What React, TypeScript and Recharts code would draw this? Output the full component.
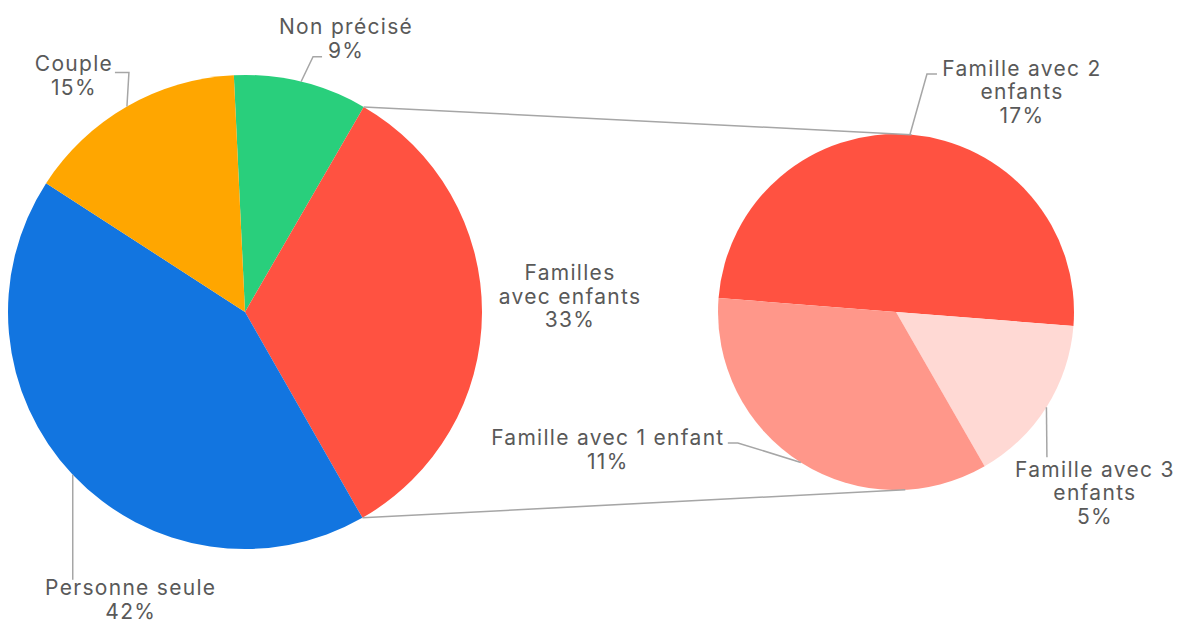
import React from "react";
import { PieChart, Pie, Cell } from "recharts";

// main split of households
const mainCategories = ["Non précisé", "Familles\navec enfants", "Personne seule", "Couple"];
const mainValues = [9.1, 33.4, 42.4, 15.1];
const mainColors = ["#29CF7C", "#FF5241", "#1275E0", "#FFA600"];

// detail of "Familles avec enfants"
const detailCategories = ["Famille avec 2\nenfants", "Famille avec 3\nenfants", "Famille avec 1 enfant"];
const detailValues = [16.5, 5.1, 11.4];
const detailColors = ["#FF5241", "#FFD9D4", "#FF978A"];

const mainData = mainCategories.map((name, i) => ({ name, value: mainValues[i] }));
const detailData = detailCategories.map((name, i) => ({ name, value: detailValues[i] }));

const MAIN = { cx: 245, cy: 312, r: 237, start: 92.7 };
const DETAIL = { cx: 896, cy: 312, r: 178, start: 175.5 };
// clockwise-from-top angles where the connectors touch the detail pie
const DETAIL_TOP = 5;
const DETAIL_BOTTOM = 177;
const EXPLODED = 1; // index of the slice shown in detail

const TEXT = "#595959";
const LINE = "#A6A6A6";
const FONT = "Inter, 'Noto Sans', sans-serif";
const FONT_SIZE = 21;
const LINE_H = 23.5;

// leader polyline (offsets from slice edge) and first-line text centre
type LabelLayout = { path: [number, number][]; text: [number, number] };
const mainLayout: LabelLayout[] = [
  { path: [[12, -25], [21, -25]], text: [45, -55] },
  { path: [], text: [88, -40] },
  { path: [[0, 105]], text: [58, 113] },
  { path: [[2, -34], [-12, -34]], text: [-53, -43] },
];
const detailLayout: LabelLayout[] = [
  { path: [[17, -60.5], [27, -60.5]], text: [112, -66.5] },
  { path: [[0.5, 50]], text: [48.5, 62] },
  { path: [[-63, -19.5], [-73, -19.5]], text: [-193, -24.5] },
];

const RAD = Math.PI / 180;
const polar = (cx: number, cy: number, r: number, angle: number) => ({
  x: cx + r * Math.cos(-angle * RAD),
  y: cy + r * Math.sin(-angle * RAD),
});

function LabelBlock({ props, layout }: { props: any; layout: LabelLayout[] }) {
  const { cx, cy, outerRadius, midAngle, index, name, value } = props;
  const lay = layout[index];
  const edge = polar(cx, cy, outerRadius, midAngle);
  const pts = [[0, 0], ...lay.path].map(([dx, dy]) => `${edge.x + dx},${edge.y + dy}`).join(" ");
  const lines = [...String(name).split("\n"), `${Math.round(value)}%`];
  return (
    <g>
      {lay.path.length > 0 && <polyline points={pts} fill="none" stroke={LINE} strokeWidth={1.5} />}
      {lines.map((t, i) => (
        <text
          key={i}
          x={edge.x + lay.text[0]}
          y={edge.y + lay.text[1] + i * LINE_H}
          textAnchor="middle"
          dominantBaseline="central"
          fill={TEXT}
          fontSize={FONT_SIZE}
          fontFamily={FONT}
          letterSpacing={1.3}
        >
          {t}
        </text>
      ))}
    </g>
  );
}

function MainLabel(props: any) {
  const block = <LabelBlock props={props} layout={mainLayout} />;
  if (props.index !== EXPLODED) return block;
  const { cx, cy, outerRadius, startAngle, endAngle } = props;
  const a = polar(cx, cy, outerRadius, startAngle);
  const b = polar(cx, cy, outerRadius, endAngle);
  const ta = polar(DETAIL.cx, DETAIL.cy, DETAIL.r, 90 - DETAIL_TOP);
  const tb = polar(DETAIL.cx, DETAIL.cy, DETAIL.r, 90 - DETAIL_BOTTOM);
  return (
    <g>
      <line x1={a.x} y1={a.y} x2={ta.x} y2={ta.y} stroke={LINE} strokeWidth={1.5} />
      <line x1={b.x} y1={b.y} x2={tb.x} y2={tb.y} stroke={LINE} strokeWidth={1.5} />
      {block}
    </g>
  );
}

function DetailLabel(props: any) {
  return <LabelBlock props={props} layout={detailLayout} />;
}

export default function App() {
  return (
    <div style={{ position: "absolute", left: 0, top: 0, width: 1179, height: 624, background: "#fff" }}>
      <PieChart width={1179} height={624} margin={{ top: 0, right: 0, bottom: 0, left: 0 }}>
        <Pie
          data={mainData}
          dataKey="value"
          nameKey="name"
          cx={MAIN.cx}
          cy={MAIN.cy}
          outerRadius={MAIN.r}
          startAngle={MAIN.start}
          endAngle={MAIN.start - 360}
          stroke="none"
          label={MainLabel}
          labelLine={false}
          isAnimationActive={false}
        >
          {mainData.map((d, i) => (
            <Cell key={d.name} fill={mainColors[i]} />
          ))}
        </Pie>
        <Pie
          data={detailData}
          dataKey="value"
          nameKey="name"
          cx={DETAIL.cx}
          cy={DETAIL.cy}
          outerRadius={DETAIL.r}
          startAngle={DETAIL.start}
          endAngle={DETAIL.start - 360}
          stroke="none"
          label={DetailLabel}
          labelLine={false}
          isAnimationActive={false}
        >
          {detailData.map((d, i) => (
            <Cell key={d.name} fill={detailColors[i]} />
          ))}
        </Pie>
      </PieChart>
    </div>
  );
}
